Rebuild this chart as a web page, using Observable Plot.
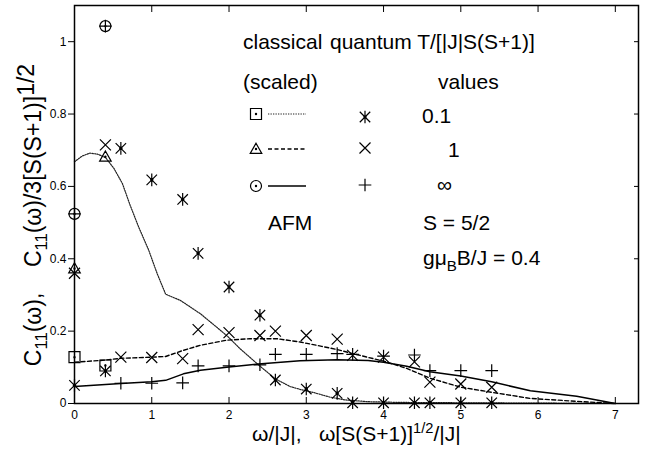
<!DOCTYPE html>
<html>
<head>
<meta charset="utf-8">
<script src="https://cdn.jsdelivr.net/npm/d3@7"></script>
<script src="https://cdn.jsdelivr.net/npm/@observablehq/plot@0.6"></script>
<style>
  html, body { margin: 0; padding: 0; background: white; }
  #chart { width: 648px; height: 453px; }
  svg text { font-family: "Liberation Sans", Arial, Helvetica, sans-serif; }
</style>
</head>
<body>
<div id="chart"></div>
<script>
// ---------- tick values ----------
const xTicks = [0, 1, 2, 3, 4, 5, 6, 7];
const yTicks = [0, 0.2, 0.4, 0.6, 0.8, 1];

// ---------- quantum values (symbols only) ----------
// T/[|J|S(S+1)] = 0.1  (asterisk)
const qA_x = [0, 0.4, 0.6, 1.0, 1.4, 1.6, 2.0, 2.4, 2.6, 3.0, 3.4, 3.6, 4.0, 4.4, 4.6, 5.0, 5.4];
const qA_y = [0.05, 0.09, 0.705, 0.618, 0.564, 0.415, 0.322, 0.244, 0.065, 0.04, 0.028, 0.002, 0.002, 0.002, 0.002, 0.002, 0.002];
// T/[|J|S(S+1)] = 1  (times)
const qB_x = [0, 0.4, 0.6, 1.0, 1.4, 1.6, 2.0, 2.4, 2.6, 3.0, 3.4, 3.6, 4.0, 4.4, 4.6, 5.0, 5.4];
const qB_y = [0.36, 0.715, 0.128, 0.127, 0.124, 0.204, 0.196, 0.188, 0.2, 0.188, 0.178, 0.133, 0.128, 0.115, 0.059, 0.054, 0.045];
// T/[|J|S(S+1)] = infinity  (plus)
const qC_x = [0, 0.4, 0.6, 1.0, 1.4, 1.6, 2.0, 2.4, 2.6, 3.0, 3.4, 3.6, 4.0, 4.4, 4.6, 5.0, 5.4];
const qC_y = [0.524, 1.043, 0.056, 0.056, 0.057, 0.104, 0.104, 0.107, 0.136, 0.136, 0.138, 0.136, 0.131, 0.134, 0.091, 0.091, 0.091];

// ---------- classical (scaled) symbols ----------
const clSq_x = [0, 0.4];  const clSq_y = [0.128, 0.105];
const clTr_x = [0, 0.4];  const clTr_y = [0.373, 0.682];
const clCi_x = [0, 0.4];  const clCi_y = [0.524, 1.043];

// ---------- classical (scaled) curves ----------
// T = 0.1 (dotted)
const cDot_x = [0, 0.1, 0.2, 0.3, 0.4, 0.51, 0.62, 0.72, 0.83, 0.96, 1.07, 1.18, 1.37, 1.56, 1.63, 1.84, 1.99, 2.14, 2.38, 2.6, 2.79, 2.92, 3.1, 3.3, 3.5, 3.8, 4.2, 5.0, 6.0, 7.0];
const cDot_y = [0.668, 0.684, 0.692, 0.689, 0.68, 0.65, 0.608, 0.548, 0.488, 0.424, 0.359, 0.302, 0.285, 0.258, 0.248, 0.211, 0.184, 0.152, 0.107, 0.068, 0.047, 0.039, 0.03, 0.018, 0.01, 0.005, 0.003, 0.002, 0.001, 0];
// T = 1 (dashed)
const cDash_x = [0, 0.4, 0.6, 1.0, 1.18, 1.41, 1.63, 1.97, 2.27, 2.62, 2.92, 3.2, 3.4, 3.6, 4.0, 4.3, 4.6, 5.0, 5.4, 5.9, 6.5, 7.0];
const cDash_y = [0.114, 0.12, 0.125, 0.128, 0.13, 0.147, 0.161, 0.175, 0.179, 0.179, 0.17, 0.158, 0.149, 0.138, 0.117, 0.097, 0.07, 0.045, 0.031, 0.014, 0.006, 0];
// T = infinity (solid)
const cSol_x = [0, 0.6, 1.0, 1.18, 1.41, 1.63, 1.97, 2.38, 2.92, 3.4, 3.8, 4.0, 4.3, 4.6, 5.0, 5.4, 5.9, 6.5, 7.0];
const cSol_y = [0.047, 0.055, 0.06, 0.064, 0.082, 0.092, 0.1, 0.109, 0.118, 0.121, 0.119, 0.114, 0.103, 0.088, 0.076, 0.06, 0.035, 0.02, 0];

const rows = (xs, ys) => xs.map((x, i) => ({x, y: ys[i]}));

// ---------- symbols (gnuplot-like) ----------
const mk = fn => ({draw(ctx, size) { const r = Math.sqrt(size / Math.PI); fn(ctx, r); }});
const dotC = (ctx) => { ctx.moveTo(0.6, 0); ctx.arc(0, 0, 0.6, 0, 2 * Math.PI); };
const symTimes = mk((c, r) => { c.moveTo(-r, -r); c.lineTo(r, r); c.moveTo(-r, r); c.lineTo(r, -r); });
const symPlus = mk((c, r) => { r *= 1.15; c.moveTo(-r, 0); c.lineTo(r, 0); c.moveTo(0, -r); c.lineTo(0, r); });
const symAst = mk((c, r) => { const s = r * 0.95; c.moveTo(-s, -s); c.lineTo(s, s); c.moveTo(-s, s); c.lineTo(s, -s);
  c.moveTo(0, -r * 1.15); c.lineTo(0, r * 1.15); c.moveTo(1.2, 0); c.arc(0, 0, 1.2, 0, 2 * Math.PI); });
const symSq = mk((c, r) => { c.rect(-r, -r, 2 * r, 2 * r); dotC(c); });
const symTr = mk((c, r) => { c.moveTo(0, -r * 1.05); c.lineTo(r * 1.05, r * 0.8); c.lineTo(-r * 1.05, r * 0.8); c.closePath(); dotC(c); });
const symCi = mk((c, r) => { c.moveTo(r, 0); c.arc(0, 0, r, 0, 2 * Math.PI); dotC(c); });

const R = 5.5;
const symStyle = {x: "x", y: "y", r: R, fill: "none", stroke: "black", strokeWidth: 1.2};

const chart = Plot.plot({
  width: 648, height: 453,
  marginLeft: 74, marginRight: 10, marginTop: 5, marginBottom: 50,
  x: {domain: [0, 7.3]},
  y: {domain: [0, 1.1]},
  style: {fontFamily: "Liberation Sans, Arial, sans-serif", background: "white", color: "black"},
  marks: [
    Plot.line(rows(cDot_x, cDot_y), {x: "x", y: "y", stroke: "#222", strokeWidth: 1.2, strokeDasharray: "1.3,1.2"}),
    Plot.line(rows(cDash_x, cDash_y), {x: "x", y: "y", stroke: "black", strokeWidth: 1.4, strokeDasharray: "4,2.5"}),
    Plot.line(rows(cSol_x, cSol_y), {x: "x", y: "y", stroke: "black", strokeWidth: 1.5}),
    Plot.dot(rows(clSq_x, clSq_y), {...symStyle, symbol: symSq}),
    Plot.dot(rows(clTr_x, clTr_y), {...symStyle, symbol: symTr}),
    Plot.dot(rows(clCi_x, clCi_y), {...symStyle, symbol: symCi}),
    Plot.dot(rows(qA_x, qA_y), {...symStyle, symbol: symAst}),
    Plot.dot(rows(qB_x, qB_y), {...symStyle, symbol: symTimes}),
    Plot.dot(rows(qC_x, qC_y), {...symStyle, symbol: symPlus}),
    // axes: tick marks
    Plot.axisX(xTicks, {anchor: "bottom", tickSize: -6, tickFormat: () => "", label: null}),
    Plot.axisX(xTicks, {anchor: "top", tickSize: -6, tickFormat: () => "", label: null}),
    Plot.axisY(yTicks, {anchor: "right", tickSize: -5, tickFormat: () => "", label: null}),
    // axes: labels
    Plot.axisX(xTicks, {anchor: "bottom", tickSize: 0, tickPadding: 7, fontSize: 12, label: null, tickFormat: d => String(d)}),
    Plot.axisY(yTicks, {anchor: "left", tickSize: 6, tickPadding: 2, fontSize: 12, label: null, tickFormat: d => String(d)}),
    Plot.frame({stroke: "black", strokeWidth: 1.5})
  ]
});

document.getElementById("chart").appendChild(chart);

// ---------- annotations / legend ----------
const svg = d3.select(chart);
const FS = 21;
function addText(x, y, parts, opts = {}) {
  const base = opts.size || FS;
  const t = svg.append("text").attr("x", x).attr("y", y)
    .attr("font-size", base).attr("fill", "black")
    .attr("text-anchor", opts.anchor || "start");
  if (opts.transform) t.attr("transform", opts.transform);
  let cur = 0;
  parts.forEach(p => {
    const o = typeof p === "string" ? {text: p} : p;
    const target = o.sub ? base * 0.28 : o.sup ? -base * (o.raise || 0.4) : 0;
    const ts = t.append("tspan").text(o.text);
    if (target !== cur) ts.attr("dy", target - cur);
    if (o.sub || o.sup) ts.attr("font-size", base * (o.scale || 0.72));
    cur = target;
  });
  return t;
}

addText(243, 49, ["classical"]);
addText(330, 49, ["quantum T/[|J|S(S+1)]"]);
addText(243, 89, ["(scaled)"]);
addText(438, 89, ["values"]);
addText(422, 123, ["0.1"]);
addText(448, 157, ["1"]);
addText(437, 192, ["\u221e"]);
addText(268, 230, ["AFM"]);
addText(423, 230, ["S = 5/2"]);
addText(423, 265, ["g\u03bc", {text: "B", sub: true}, "B/J = 0.4"]);

// legend rows
const legendRows = [
  {y: 114, cls: symSq, dash: "1.3,1.2", col: "#222", sw: 1.2, q: symAst, qy: 117},
  {y: 149, cls: symTr, dash: "4,2.5", col: "black", sw: 1.4, q: symTimes, qy: 148},
  {y: 186, cls: symCi, dash: null, col: "black", sw: 1.5, q: symPlus, qy: 185}
];
const symSize = R * R * Math.PI;
legendRows.forEach(r => {
  svg.append("path").attr("d", d3.symbol(r.cls, symSize)()).attr("transform", `translate(256,${r.y})`)
    .attr("fill", "none").attr("stroke", "black").attr("stroke-width", 1.2);
  const l = svg.append("line").attr("x1", 268).attr("x2", 306).attr("y1", r.y).attr("y2", r.y)
    .attr("stroke", r.col).attr("stroke-width", r.sw);
  if (r.dash) l.attr("stroke-dasharray", r.dash);
  svg.append("path").attr("d", d3.symbol(r.q, symSize)()).attr("transform", `translate(365,${r.qy})`)
    .attr("fill", "none").attr("stroke", "black").attr("stroke-width", 1.2);
});

// axis titles
addText(252, 441, ["\u03c9/|J|,\u00a0\u00a0\u00a0\u03c9[S(S+1)]", {text: "1/2", sup: true, scale: 0.7, raise: 0.38}, "/|J|"]);
addText(0, 0, ["C", {text: "11", sub: true}, "(\u03c9),\u00a0\u00a0\u00a0\u00a0C", {text: "11", sub: true}, "(\u03c9)/3[S(S+1)]", {text: "1/2", sup: true, scale: 1.0, raise: 0.3}],
  {size: 23, anchor: "middle", transform: "translate(41,215) rotate(-90)"});
</script>
</body>
</html>
